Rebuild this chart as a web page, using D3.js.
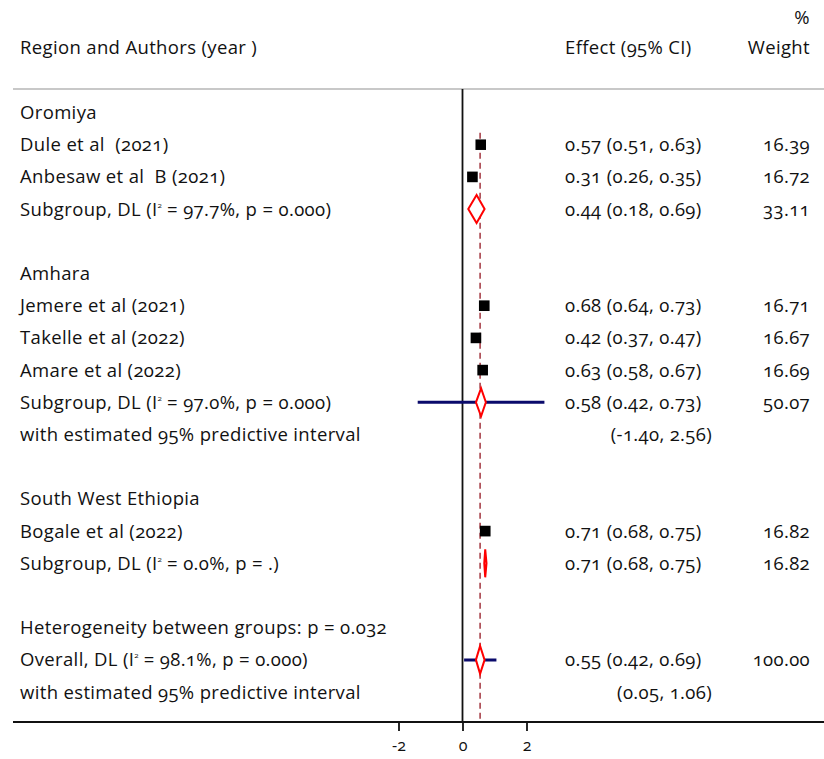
<!DOCTYPE html>
<html>
<head>
<meta charset="utf-8">
<script src="https://cdn.jsdelivr.net/npm/d3@7"></script>
<style>
  html, body { margin: 0; padding: 0; background: #fff; }
  text { font-family: "Open Sans", Lato, sans-serif; font-size: 18.5px; letter-spacing: 0.35px; fill: #111; font-feature-settings: "onum" 1; white-space: pre; }
</style>
</head>
<body>
<svg id="chart" width="824" height="759"></svg>
<script>
// ---- Data ----
const rowLabels = [
  "Oromiya", "Dule et al  (2021)", "Anbesaw et al  B (2021)", "Subgroup, DL (I² = 97.7%, p = 0.000)", "",
  "Amhara", "Jemere et al (2021)", "Takelle et al (2022)", "Amare et al (2022)", "Subgroup, DL (I² = 97.0%, p = 0.000)", "with estimated 95% predictive interval", "",
  "South West Ethiopia", "Bogale et al (2022)", "Subgroup, DL (I² = 0.0%, p = .)", "",
  "Heterogeneity between groups: p = 0.032", "Overall, DL (I² = 98.1%, p = 0.000)", "with estimated 95% predictive interval"
];
const rowTypes = [
  "head", "study", "study", "sub", "blank",
  "head", "study", "study", "study", "sub", "pred", "blank",
  "head", "study", "sub", "blank",
  "text", "overall", "pred"
];
const effect = [null, 0.57, 0.31, 0.44, null, null, 0.68, 0.42, 0.63, 0.58, null, null, null, 0.71, 0.71, null, null, 0.55, null];
const lower  = [null, 0.51, 0.26, 0.18, null, null, 0.64, 0.37, 0.58, 0.42, -1.40, null, null, 0.68, 0.68, null, null, 0.42, 0.05];
const upper  = [null, 0.63, 0.35, 0.69, null, null, 0.73, 0.47, 0.67, 0.73, 2.56, null, null, 0.75, 0.75, null, null, 0.69, 1.06];
const weight = [null, 16.39, 16.72, 33.11, null, null, 16.71, 16.67, 16.69, 50.07, null, null, null, 16.82, 16.82, null, null, 100.00, null];
const xTicks = [-2, 0, 2];
const overallEffect = 0.55;

// ---- Layout ----
const svg = d3.select("#chart");
const x = d3.scaleLinear().domain([-2, 2]).range([398.5, 526.5]);
const rowIdx = d3.range(rowLabels.length);
const y = d3.scalePoint().domain(rowIdx).range([112.5, 112.5 + 32.2 * (rowLabels.length - 1)]);
const topY = 89, axisY = 722;
const f2 = d3.format(".2f");
const fmt = v => f2(v).replace("\u2212", "-");

// header
svg.append("text").attr("x", 20).attr("y", 48).attr("dy", "0.35em").text("Region and Authors (year )");
svg.append("text").attr("x", 565).attr("y", 48).attr("dy", "0.35em").text("Effect (95% CI)");
svg.append("text").attr("x", 810).attr("y", 48).attr("dy", "0.35em").attr("text-anchor", "end").text("Weight");
svg.append("text").attr("x", 810).attr("y", 18).attr("dy", "0.35em").attr("text-anchor", "end").text("%");

// top separator
svg.append("line").attr("x1", 13).attr("x2", 824).attr("y1", topY).attr("y2", topY)
  .attr("stroke", "#c8c8c8").attr("stroke-width", 2);

// zero line
svg.append("line").attr("x1", x(0)).attr("x2", x(0)).attr("y1", topY).attr("y2", axisY)
  .attr("stroke", "#111").attr("stroke-width", 1.8);

// overall dashed line
svg.append("line").attr("x1", x(overallEffect)).attr("x2", x(overallEffect))
  .attr("y1", y(1) - 12).attr("y2", axisY)
  .attr("stroke", "#a3363f").attr("stroke-width", 1.5).attr("stroke-dasharray", "6,4");

// labels
rowIdx.forEach(i => {
  const lbl = rowLabels[i];
  if (!lbl) return;
  const t = svg.append("text").attr("x", 20).attr("y", y(i) + 6.5);
  const m = lbl.match(/^(.*\(I)²(.*)$/);
  if (m) {
    t.append("tspan").text(m[1]);
    t.append("tspan").attr("dy", -8).attr("font-size", "8px").style("letter-spacing", "0px").text("2");
    t.append("tspan").attr("dy", 8).text(m[2]);
  } else {
    t.text(lbl);
  }
});

// effect text & weights
rowIdx.forEach(i => {
  const tp = rowTypes[i];
  if (tp === "study" || tp === "sub" || tp === "overall") {
    svg.append("text").attr("x", 565).attr("y", y(i)).attr("dy", "0.35em")
      .text(`${fmt(effect[i])} (${fmt(lower[i])}, ${fmt(upper[i])})`);
    svg.append("text").attr("x", 810).attr("y", y(i)).attr("dy", "0.35em").attr("text-anchor", "end")
      .text(fmt(weight[i]));
  } else if (tp === "pred") {
    svg.append("text").attr("x", 712).attr("y", y(i)).attr("dy", "0.35em").attr("text-anchor", "end")
      .text(`(${fmt(lower[i])}, ${fmt(upper[i])})`);
  }
});

// predictive interval lines (drawn on the row of the preceding subgroup / overall)
rowIdx.forEach(i => {
  if (rowTypes[i] === "pred") {
    const yy = y(i - 1);
    svg.append("line").attr("x1", x(lower[i])).attr("x2", x(upper[i])).attr("y1", yy).attr("y2", yy)
      .attr("stroke", "#0a0a6b").attr("stroke-width", 3);
  }
});

// study CIs and squares
rowIdx.forEach(i => {
  if (rowTypes[i] !== "study") return;
  const yy = y(i);
  svg.append("line").attr("x1", x(lower[i])).attr("x2", x(upper[i])).attr("y1", yy).attr("y2", yy)
    .attr("stroke", "#000").attr("stroke-width", 1.5);
  const s = Math.sqrt(weight[i]) * 2.6;
  svg.append("rect").attr("x", x(effect[i]) - s / 2).attr("y", yy - s / 2)
    .attr("width", s).attr("height", s).attr("fill", "#000");
});

// diamonds
rowIdx.forEach(i => {
  const tp = rowTypes[i];
  if (tp !== "sub" && tp !== "overall") return;
  const yy = y(i), h = 14;
  const pts = [[x(lower[i]), yy], [x(effect[i]), yy - h], [x(upper[i]), yy], [x(effect[i]), yy + h]];
  svg.append("polygon").attr("points", pts.map(p => p.join(",")).join(" "))
    .attr("fill", "#fff").attr("stroke", "#ff0000").attr("stroke-width", 2).attr("stroke-linejoin", "miter");
});

// bottom axis line
svg.append("line").attr("x1", 13).attr("x2", 824).attr("y1", axisY).attr("y2", axisY)
  .attr("stroke", "#111").attr("stroke-width", 2);

const axis = d3.axisBottom(x).tickValues(xTicks).tickSize(9).tickPadding(9).tickFormat(d => d < 0 ? "-" + Math.abs(d) : String(d));
const ag = svg.append("g").attr("transform", `translate(0,${axisY})`).call(axis);
ag.select(".domain").remove();
ag.selectAll(".tick line").attr("stroke", "#111").attr("stroke-width", 1.8);
ag.selectAll(".tick text").style("font-family", "'Open Sans', Lato, sans-serif").style("font-size", "16px").style("letter-spacing", "0px").attr("fill", "#111");
</script>
</body>
</html>
